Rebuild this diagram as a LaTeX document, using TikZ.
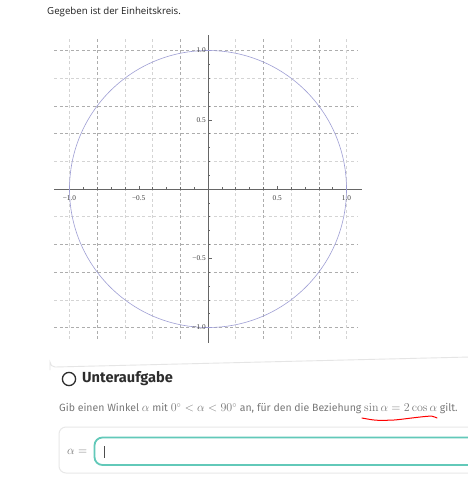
\documentclass[tikz,border=0pt]{standalone}
\usepackage[no-math]{fontspec}
\newfontfamily\uifont{Open Sans}
\newfontfamily\fira{Fira Sans}
\newfontfamily\plotfont{Liberation Serif}
\definecolor{curve}{RGB}{158,158,212}
\definecolor{teal1}{RGB}{98,201,185}
\definecolor{txtgray}{RGB}{120,120,120}
\definecolor{headgray}{RGB}{45,45,45}
\tikzset{
  gridA/.style={black!32,line width=0.5pt,dash pattern=on 3pt off 2.5pt},
  gridB/.style={black!17,line width=0.5pt,dash pattern=on 3pt off 2.5pt},
  axisline/.style={black!60,line width=0.5pt},
  ticklab/.style={font=\plotfont\fontsize{7.3}{8}\selectfont,text=black!75,inner sep=0pt},
  cardline/.style={black!10,line width=0.9pt},
}
\newcommand{\mth}[1]{{\fontsize{11.6}{13}\selectfont$#1$}}
\begin{document}
\begin{tikzpicture}[x=1pt,y=-1pt]
\useasboundingbox[fill=white] (0,0) rectangle (468,480);
% heading
\node[anchor=west,inner sep=0pt,font=\uifont\fontsize{9.7}{11}\selectfont,text=black!88] (head) at (47,12) {Gegeben ist der Einheitskreis.};
% plot
\begin{scope}[shift={(208,189)},x=138.5pt,y=138.5pt]
  % horizontal grid
  \foreach \v/\s in {1/gridA,0.8/gridB,0.6/gridA,0.4/gridA,0.2/gridB,-0.2/gridB,-0.4/gridA,-0.6/gridA,-0.8/gridB,-1/gridA}
    \draw[\s] (-1.11,\v) -- (1.08,\v);
  % vertical grid
  \foreach \v/\s in {-1/gridB,-0.8/gridA,-0.6/gridB,-0.4/gridB,-0.2/gridA,0.2/gridB,0.4/gridA,0.6/gridB,0.8/gridA,1/gridB}
    \draw[\s] (\v,1.08) -- (\v,-1.10);
  % axes
  \draw[axisline] (-1.11,0) -- (1.11,0);
  \draw[axisline] (0,1.11) -- (0,-1.11);
  % ticks
  \foreach \t in {-1,-0.9,-0.8,-0.7,-0.6,-0.4,-0.3,-0.2,-0.1,0.1,0.2,0.3,0.4,0.6,0.7,0.8,0.9,1}{
    \draw[axisline] (\t,0) -- ++(0,2pt);
    \draw[axisline] (0,\t) -- ++(2pt,0);
  }
  \foreach \t in {-0.5,0.5}{
    \draw[axisline] (\t,0) -- ++(0,3.5pt);
    \draw[axisline] (0,\t) -- ++(3.5pt,0);
  }
  % circle
  \draw[curve,line width=0.6pt] (0,0) circle (1);
  % labels
  \node[ticklab] (xm1) at (-1,-0.065) {−1.0};
  \node[ticklab] (xm05) at (-0.5,-0.065) {−0.5};
  \node[ticklab] (xp05) at (0.5,-0.065) {0.5};
  \node[ticklab] (xp1) at (1,-0.065) {1.0};
  \node[ticklab,anchor=east] (yp1) at (-0.015,1) {1.0};
  \node[ticklab,anchor=east] (yp05) at (-0.015,0.5) {0.5};
  \node[ticklab,anchor=east] (ym05) at (-0.015,-0.5) {−0.5};
  \node[ticklab,anchor=east] (ym1) at (-0.015,-1) {−1.0};
\end{scope}
% card
\draw[cardline] (50,370) -- (50,362) arc[start angle=180,end angle=90,radius=5] -- (470,357);
\draw[headgray,line width=1.3pt] (69,379) circle (6.6);
\node[anchor=west,inner sep=0pt,font=\fira\bfseries\fontsize{14.6}{16}\selectfont,text=headgray] (title) at (82,379) {Unteraufgabe};
\node[anchor=west,inner sep=0pt,font=\fira\fontsize{10.5}{12}\selectfont,text=txtgray] (task) at (59,409)
  {Gib einen Winkel \mth{\alpha} mit \mth{0^\circ<\alpha<90^\circ} an, für den die Beziehung \mth{\sin\alpha=2\cos\alpha} gilt.};
% red underline
\draw[red,line width=1pt,line cap=round] plot[smooth] coordinates {(362,418) (376,420.2) (394,420) (410,418.2) (424,416.6) (432,416.2) (437,418)};
% input area
\draw[black!9,line width=1pt,rounded corners=7pt] (59,427) rectangle (480,473);
\draw[teal1,line width=1.8pt,rounded corners=8pt] (94.5,437.5) rectangle (485,465);
\draw[black!70,line width=0.6pt] (104,446) -- (104,458);
\node[anchor=west,inner sep=0pt,text=txtgray] (alpha) at (67,452) {\mth{\alpha=}};
\end{tikzpicture}
\end{document}
